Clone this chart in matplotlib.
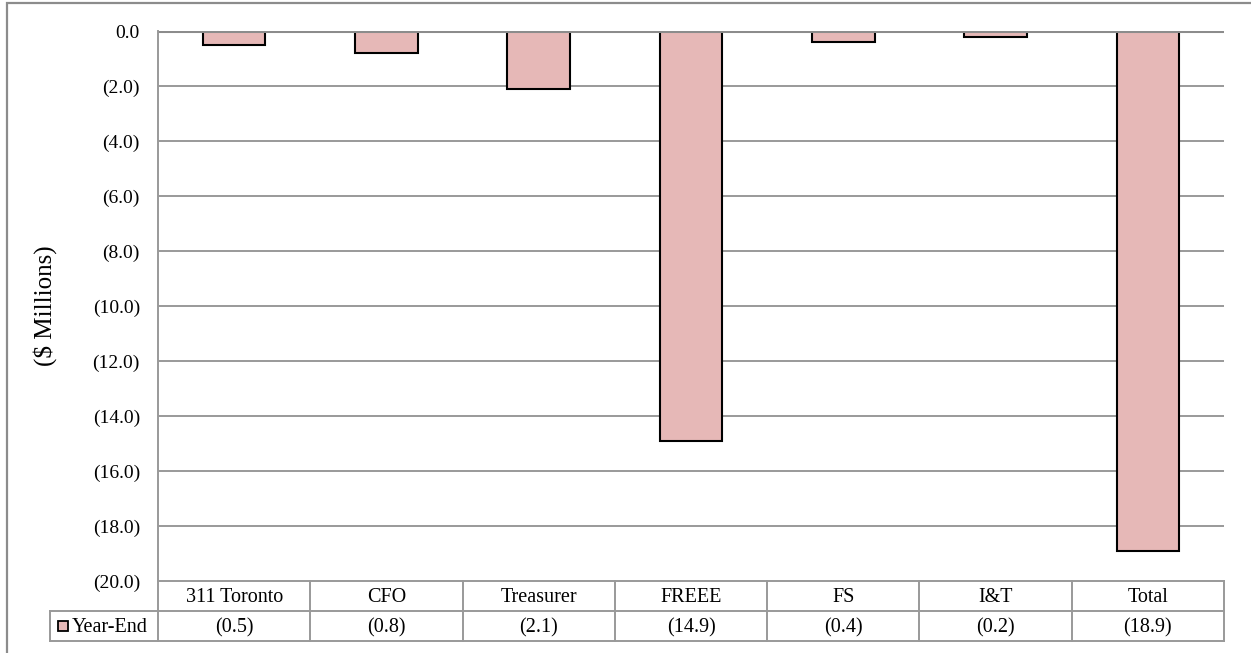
import matplotlib.pyplot as plt
from matplotlib.patches import Rectangle
from matplotlib.ticker import FuncFormatter
from matplotlib.transforms import blended_transform_factory

CATEGORIES = ["311 Toronto", "CFO", "Treasurer", "FREEE", "FS", "I&T", "Total"]
YEAR_END = [-0.5, -0.8, -2.1, -14.9, -0.4, -0.2, -18.9]
SERIES_NAME = "Year-End"
Y_LABEL = "($ Millions)"
Y_TICKS = [0, -2, -4, -6, -8, -10, -12, -14, -16, -18, -20]

BAR_COLOR = "#E6B8B7"
GRID_COLOR = "#999999"
FRAME_COLOR = "#8c8c8c"
FONT_SIZE = 14
TABLE_FONT = 14.5

W, H = 1251, 653


def money(v, _pos=None):
    if v == 0:
        return "0.0"
    return f"({abs(v):.1f})"


def main() -> None:
    plt.rcParams["font.family"] = ["Liberation Serif", "DejaVu Serif"]
    plt.rcParams["font.size"] = FONT_SIZE

    fig = plt.figure(figsize=(W / 100, H / 100), dpi=100)
    left, right, top, bottom = 158, 1224, 31, 581
    ax = fig.add_axes([left / W, 1 - bottom / H, (right - left) / W, (bottom - top) / H])

    x = range(len(CATEGORIES))
    ax.bar(x, YEAR_END, width=0.41, color=BAR_COLOR, edgecolor="black",
           linewidth=1.5, zorder=3)

    ax.set_xlim(-0.5, len(CATEGORIES) - 0.5)
    ax.set_ylim(-20, 0)
    ax.set_yticks(Y_TICKS)
    ax.yaxis.set_major_formatter(FuncFormatter(money))
    ax.tick_params(axis="y", length=0, pad=13, labelsize=FONT_SIZE)
    ax.set_xticks([])

    for v in Y_TICKS:
        if v == 0:
            ax.axhline(v, color=FRAME_COLOR, lw=2.2, zorder=4)
        elif v != -20:
            ax.axhline(v, color=GRID_COLOR, lw=1.4, zorder=1)

    for side in ("top", "right", "bottom", "left"):
        ax.spines[side].set_visible(False)

    ax.set_ylabel(Y_LABEL, fontsize=18)
    ax.yaxis.set_label_coords((57 - left) / (right - left), 0.5)

    # data table under the axis
    px_h = bottom - top
    row_h = 30 / px_h
    nudge = 2 / px_h
    trans = blended_transform_factory(ax.transData, ax.transAxes)
    line_kw = dict(color=GRID_COLOR, lw=1.4, clip_on=False, zorder=5)
    x0, x1 = -0.5, len(CATEGORIES) - 0.5
    legend_left = (50 - left) / (right - left)

    ax.plot([0, 0], [1, -2 * row_h], transform=ax.transAxes, **line_kw)
    ax.plot([x0, x1], [0, 0], transform=trans, **line_kw)
    ax.plot([legend_left, 1], [-row_h, -row_h], transform=ax.transAxes, **line_kw)
    ax.plot([legend_left, 1], [-2 * row_h, -2 * row_h], transform=ax.transAxes, **line_kw)
    ax.plot([legend_left, legend_left], [-row_h, -2 * row_h], transform=ax.transAxes, **line_kw)
    for i in range(1, len(CATEGORIES) + 1):
        ax.plot([x0 + i, x0 + i], [0, -2 * row_h], transform=trans, **line_kw)

    for i, (cat, val) in enumerate(zip(CATEGORIES, YEAR_END)):
        ax.text(i, -0.5 * row_h - nudge, cat, transform=trans, ha="center",
                va="center", fontsize=TABLE_FONT)
        ax.text(i, -1.5 * row_h - nudge, money(val), transform=trans,
                ha="center", va="center", fontsize=TABLE_FONT)

    sq = 10 / (right - left)
    sq_h = 10 / px_h
    ax.add_patch(Rectangle(((58 - left) / (right - left), -1.5 * row_h - sq_h / 2),
                           sq, sq_h, transform=ax.transAxes, facecolor=BAR_COLOR,
                           edgecolor="black", lw=1.3, clip_on=False, zorder=6))
    ax.text((72 - left) / (right - left), -1.5 * row_h - nudge, SERIES_NAME,
            transform=ax.transAxes, ha="left", va="center", fontsize=TABLE_FONT)

    # outer chart border
    fig.add_artist(Rectangle((7 / W, -0.05), 1.1, 1 - 3 / H + 0.05,
                             transform=fig.transFigure, fill=False,
                             edgecolor=FRAME_COLOR, lw=1.6))

    fig.savefig("out.png", dpi=100)


if __name__ == "__main__":
    main()
